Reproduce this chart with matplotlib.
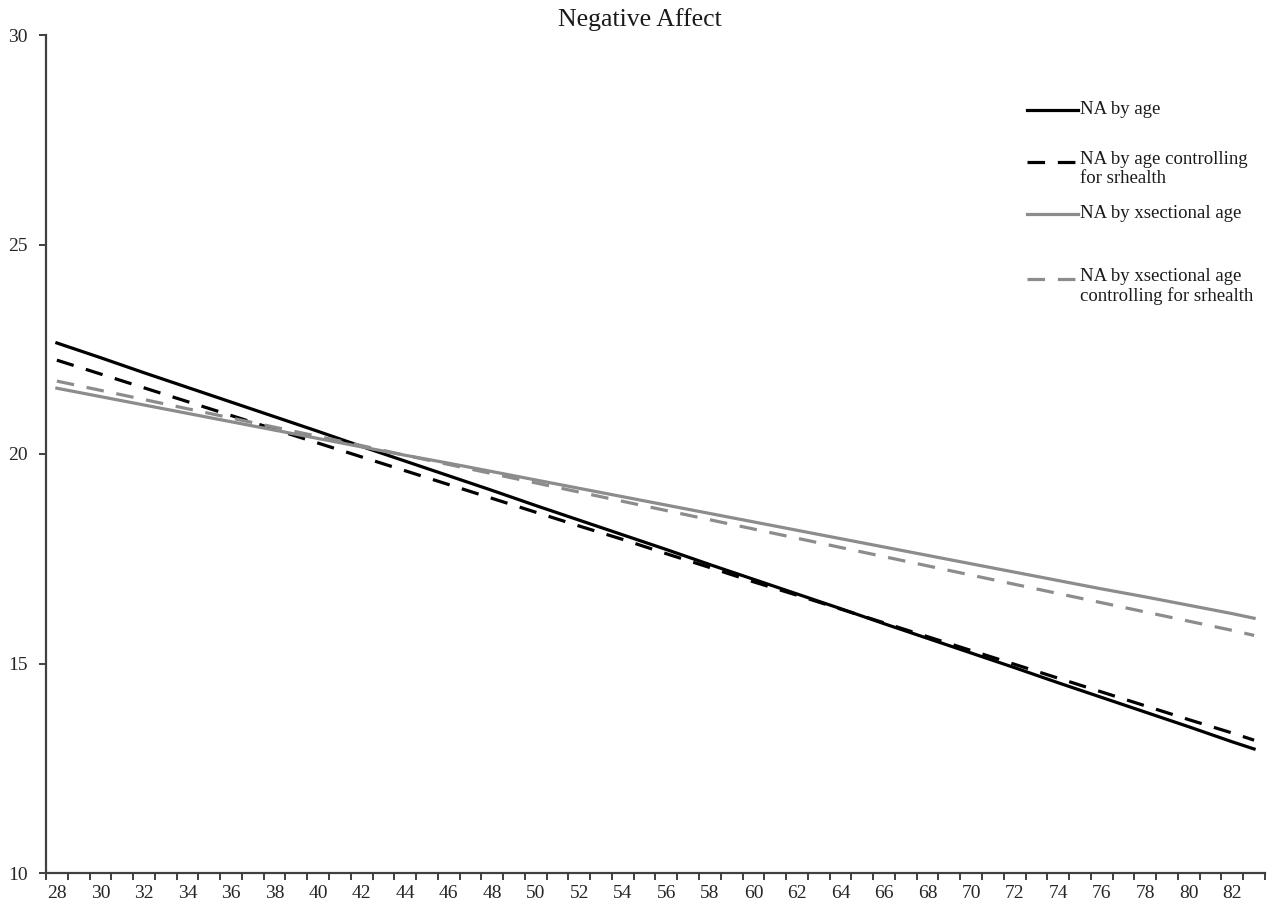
import matplotlib

matplotlib.use("Agg")
import matplotlib.pyplot as plt
from matplotlib.lines import Line2D
import numpy as np

plt.rcParams["font.family"] = ["Liberation Serif", "DejaVu Serif"]

# ages (read every second year, plus the last one)
ages = [28, 30, 32, 34, 36, 38, 40, 42, 44, 46, 48, 50, 52, 54, 56,
        58, 60, 62, 64, 66, 68, 70, 72, 74, 76, 78, 80, 82, 83]

na_age = [22.65, 22.30, 21.94, 21.59, 21.24, 20.89, 20.54, 20.18, 19.83, 19.48,
          19.13, 18.77, 18.42, 18.07, 17.72, 17.36, 17.01, 16.66, 16.31, 15.95,
          15.60, 15.25, 14.90, 14.54, 14.19, 13.84, 13.49, 13.13, 12.96]
na_age_ctrl = [22.24, 21.91, 21.58, 21.25, 20.92, 20.59, 20.26, 19.93, 19.60, 19.27,
               18.94, 18.61, 18.28, 17.96, 17.62, 17.29, 16.95, 16.63, 16.30, 15.97,
               15.64, 15.31, 14.98, 14.65, 14.32, 13.99, 13.66, 13.34, 13.17]
na_xsec = [21.57, 21.37, 21.17, 20.97, 20.77, 20.57, 20.37, 20.17, 19.97, 19.78,
           19.58, 19.38, 19.18, 18.98, 18.78, 18.58, 18.38, 18.18, 17.98, 17.78,
           17.58, 17.38, 17.18, 16.98, 16.78, 16.59, 16.39, 16.19, 16.08]
na_xsec_ctrl = [21.74, 21.52, 21.30, 21.08, 20.86, 20.64, 20.42, 20.20, 19.97, 19.75,
                19.53, 19.31, 19.09, 18.87, 18.65, 18.43, 18.21, 17.99, 17.77, 17.55,
                17.33, 17.11, 16.89, 16.67, 16.45, 16.23, 16.01, 15.79, 15.67]

labels = ["NA by age", "NA by age controlling\nfor srhealth",
          "NA by xsectional age", "NA by xsectional age\ncontrolling for srhealth"]

W, H = 1277, 910
fig = plt.figure(figsize=(W / 100, H / 100), dpi=100)
ax = fig.add_axes([46 / W, 1 - 873 / H, (1265 - 46) / W, (873 - 35) / H])

black = "#000000"
grey = "#8c8c8c"
dash = (0, (5.5, 4))
styles = [(black, "-"), (black, dash), (grey, "-"), (grey, dash)]
series = [na_age, na_age_ctrl, na_xsec, na_xsec_ctrl]

for vals, (col, ls) in zip(series, styles):
    ax.plot(ages, vals, color=col, linestyle=ls, lw=2.3)

ax.set_xlim(27.5, 83.5)
ax.set_ylim(10, 30)
ax.set_yticks([10, 15, 20, 25, 30])
ax.set_xticks(np.arange(28, 83, 2))
ax.set_xticks(np.arange(27.5, 84, 1), minor=True)

for s in ["top", "right"]:
    ax.spines[s].set_visible(False)
for s in ["left", "bottom"]:
    ax.spines[s].set_color("#404040")
    ax.spines[s].set_linewidth(1.6)

ax.tick_params(axis="x", which="major", length=0, pad=9, labelsize=14, labelcolor="#262626")
ax.tick_params(axis="x", which="minor", length=5, width=1.4, color="#404040", direction="out")
ax.tick_params(axis="y", length=5, width=1.4, color="#404040", pad=8,
               labelsize=14, labelcolor="#262626")

fig.text(640 / W, 1 - 20 / H, "Negative Affect", ha="center", va="center",
         fontsize=18.5, color="#1a1a1a")

# legend, drawn by hand to follow the uneven spacing of the original
leg_y = [110, 162, 214, 279]
for (col, ls), lab, y in zip(styles, labels, leg_y):
    fy = 1 - y / H
    fig.add_artist(Line2D([1027 / W, 1078 / W], [fy, fy], color=col, linestyle=ls,
                          lw=2.3, transform=fig.transFigure))
    if "\n" in lab:
        fig.text(1080 / W, fy + 11 / H, lab, ha="left", va="top",
                 fontsize=13.5, color="#1a1a1a", linespacing=1.15)
    else:
        fig.text(1080 / W, fy, lab, ha="left", va="center",
                 fontsize=13.5, color="#1a1a1a")

fig.savefig("out.png", dpi=100, facecolor="white")
